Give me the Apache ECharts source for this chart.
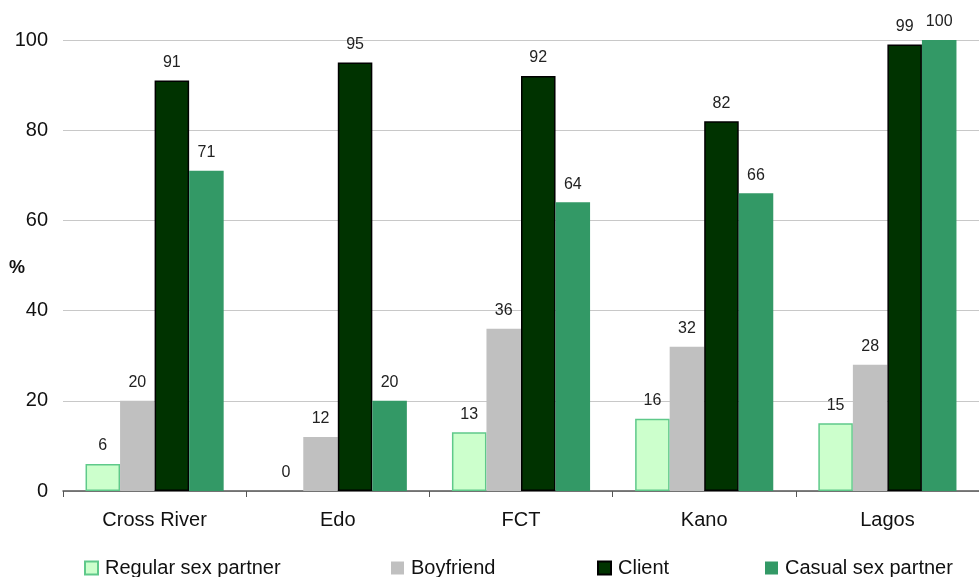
<!DOCTYPE html>
<html lang="en">
<head>
<meta charset="utf-8">
<title>Partner types by state</title>
<script src="https://cdn.jsdelivr.net/npm/echarts@6/dist/echarts.min.js"></script>
<style>
  html, body { margin: 0; padding: 0; background: #fff; }
</style>
</head>
<body>
<div id="main" style="width:979px;height:577px;"></div>
<script>
var states = ['Cross River', 'Edo', 'FCT', 'Kano', 'Lagos'];
var regular = [6, 0, 13, 16, 15];
var boyfriend = [20, 12, 36, 32, 28];
var client = [91, 95, 92, 82, 99];
var casual = [71, 20, 64, 66, 100];
var yTicks = [0, 20, 40, 60, 80, 100];

var chart = echarts.init(document.getElementById('main'));
var font = 'Liberation Sans, Arial, sans-serif';

function mkSeries(name, data, color, border) {
    return {
        name: name,
        type: 'bar',
        // zero-height bars draw nothing in the original
        data: data.map(function (v) {
            return v === 0 ? { value: v, itemStyle: { borderWidth: 0 } } : v;
        }),
        barGap: '0%',
        barCategoryGap: '24.6%',
        itemStyle: { color: color, borderColor: border || color, borderWidth: border ? 1.5 : 0 },
        label: {
            show: true, position: 'top', distance: 10,
            color: '#222', fontFamily: font, fontSize: 16
        }
    };
}

function mkLegend(name, left) {
    return {
        data: [name], left: left, top: 553, itemWidth: 13, itemHeight: 13,
        icon: 'rect', itemGap: 0,
        textStyle: { fontFamily: font, fontSize: 20, color: '#111', padding: [0, 0, 0, 2] }
    };
}

var option = {
    animation: false,
    grid: { left: 63, right: 0, top: 40, bottom: 86, outerBoundsMode: 'none', containLabel: false },
    legend: [
        mkLegend('Regular sex partner', 79),
        mkLegend('Boyfriend', 386),
        mkLegend('Client', 592),
        mkLegend('Casual sex partner', 760)
    ],
    graphic: [{
        type: 'text', left: 9, top: 259,
        style: { text: '%', font: 'bold 18px ' + font, fill: '#111' }
    }],
    xAxis: {
        type: 'category',
        data: states,
        axisLine: { lineStyle: { color: '#555', width: 1.5 } },
        axisTick: { show: true, length: 6, lineStyle: { color: '#555' } },
        axisLabel: { margin: 19, fontFamily: font, fontSize: 20, color: '#111' }
    },
    yAxis: {
        type: 'value',
        min: yTicks[0], max: yTicks[yTicks.length - 1], interval: 20,
        axisLine: { show: false },
        axisTick: { show: false },
        splitLine: { lineStyle: { color: '#c8c8c8', width: 1 } },
        axisLabel: { margin: 15, fontFamily: font, fontSize: 20, color: '#111' }
    },
    series: [
        mkSeries('Regular sex partner', regular, '#CCFFCC', '#5fc98a'),
        mkSeries('Boyfriend', boyfriend, '#C0C0C0'),
        mkSeries('Client', client, '#003300', '#000000'),
        mkSeries('Casual sex partner', casual, '#339966')
    ]
};
chart.setOption(option);
</script>
</body>
</html>
